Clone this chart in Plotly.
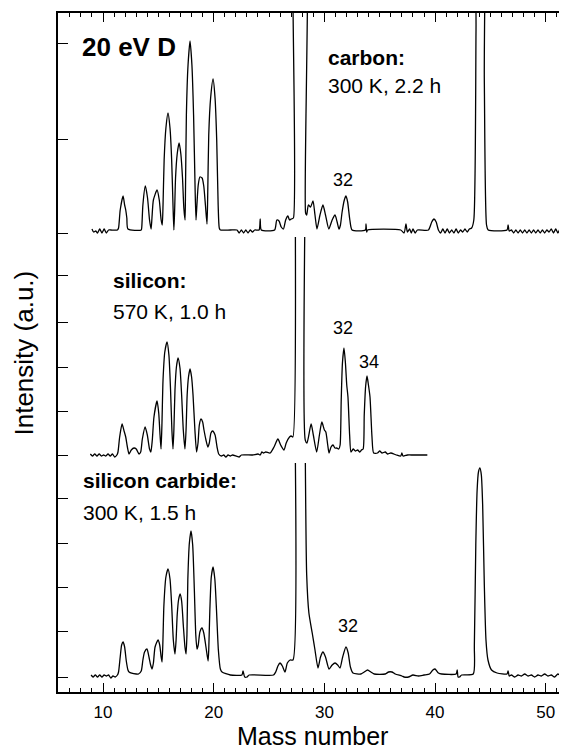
import plotly.graph_objects as go

# ---------------- data ----------------
# baselines (axis units) of the three stacked spectra
carbon_base = 462
silicon_base = 237
sic_base = 17

# carbon: (mass number, intensity above baseline, a.u.)
carbon = [
    (9.0, 1), (9.15, -2), (9.35, -1), (9.5, -3), (9.7, 1), (9.9, -3), (10.1, 1), (10.3, -3), (10.5, 0), (10.7, 0), (11.3, 0),
    (11.4, 2), (11.55, 20), (11.81, 34), (11.95, 25), (12.05, 20), (12.15, 12), (12.25, 1), (13.45, 0),
    (13.5, 3), (13.6, 25), (13.82, 44), (14.02, 32), (14.2, 10), (14.34, 1),
    (14.42, 12), (14.55, 30), (14.88, 40), (15.08, 30), (15.25, 10), (15.35, 5),
    (15.42, 25), (15.52, 70), (15.68, 102), (15.87, 117), (16.05, 102), (16.2, 70), (16.32, 25), (16.4, 0),
    (16.47, 20), (16.55, 52), (16.7, 76), (16.87, 87), (17.03, 76), (17.18, 52), (17.3, 22), (17.41, 10),
    (17.45, 40), (17.53, 115), (17.68, 165), (17.86, 189), (18.03, 165), (18.18, 115), (18.32, 40), (18.4, 10),
    (18.48, 25), (18.6, 45), (18.75, 53), (18.95, 52), (19.1, 44), (19.25, 25), (19.39, 6),
    (19.45, 30), (19.55, 95), (19.72, 132), (19.94, 151), (20.12, 132), (20.27, 90), (20.4, 25), (20.5, 2), (20.6, 0),
    (21.5, 0), (22.1, 0), (22.3, -3), (22.5, 0), (22.7, -3), (22.9, 0), (23.1, -3), (23.3, 0), (23.5, -2), (23.7, 0),
    (24.1, 0), (24.2, 11), (24.3, 0), (25.5, 0), (25.7, 10), (25.9, 9), (26.1, 3), (26.3, 1), (26.5, 10), (26.7, 14),
    (26.85, 10), (27.0, 11), (27.2, 12),
    (27.45, 420), (28.15, 420),
    (28.3, 17), (28.4, 15), (28.55, 25), (28.75, 23), (28.97, 29), (29.15, 15), (29.33, 1),
    (29.6, 15), (29.87, 25), (30.1, 15), (30.4, 1), (30.7, 10), (30.96, 15), (31.15, 8), (31.32, 1),
    (31.45, 5), (31.6, 18), (31.8, 30), (31.95, 34), (32.1, 28), (32.3, 10), (32.5, 0),
    (33.7, 0), (33.76, 6), (33.82, -2), (33.9, 0), (36.9, 0), (37.2, -3), (37.37, 6), (37.5, -2), (37.7, 1),
    (37.85, -3), (38.0, 1), (38.2, -3), (38.4, 0), (39.4, 0),
    (39.7, 8), (39.9, 11), (40.1, 8), (40.3, 0),
    (40.5, -3), (40.7, 1), (40.9, -3), (41.1, 1), (41.3, -3), (41.5, 0), (41.7, -3), (41.9, 1), (42.1, -3), (42.3, 0),
    (42.5, -2), (42.7, 1), (42.9, -2), (43.1, 1), (43.3, 2),
    (43.5, 10), (43.7, 200), (43.85, 450), (44.25, 450), (44.45, 150), (44.65, 5), (44.8, 0),
    (46.5, 0), (46.6, 5), (46.7, -1), (46.9, 0), (47.1, -3), (47.3, 0), (47.5, -3), (47.7, 0), (47.9, -3), (48.1, 0),
    (48.3, -3), (48.5, 0), (48.7, -3), (48.9, 0), (49.1, -3), (49.3, 0), (49.5, -3), (49.7, 0), (49.9, -3), (50.1, 0),
    (50.3, -2), (50.5, 1), (50.7, -3), (50.9, 1), (51.1, -3), (51.3, 1), (51.5, -2), (51.7, 1), (51.9, -1),
]

# silicon (None = peak cut off in the original figure)
silicon = [
    (8.85, 1), (9.05, -1), (9.25, 1), (9.45, -1), (9.65, 1), (9.85, -1), (10.05, 0), (10.25, -1), (10.45, 1), (10.65, -1),
    (10.85, 1), (11.05, -2), (11.25, 0),
    (11.35, 3), (11.5, 18), (11.72, 31), (11.9, 24), (12.05, 18), (12.2, 8), (12.35, 1),
    (12.55, 5), (12.8, 7), (13.0, 6), (13.25, 1),
    (13.4, 3), (13.55, 16), (13.8, 28), (14.0, 20), (14.2, 6), (14.32, 3),
    (14.45, 15), (14.6, 38), (14.88, 54), (15.03, 42), (15.15, 20), (15.24, 6),
    (15.32, 30), (15.42, 75), (15.58, 103), (15.78, 113), (15.95, 100), (16.1, 65), (16.22, 25), (16.32, 6),
    (16.4, 25), (16.5, 65), (16.63, 88), (16.78, 97), (16.95, 87), (17.1, 60), (17.25, 25), (17.4, 6),
    (17.5, 25), (17.6, 60), (17.72, 78), (17.86, 86), (18.0, 78), (18.13, 60), (18.3, 25), (18.45, 3),
    (18.58, 12), (18.7, 30), (18.85, 36), (19.0, 33), (19.12, 25), (19.3, 15), (19.47, 8),
    (19.6, 12), (19.75, 22), (19.9, 24), (20.12, 20), (20.3, 8), (20.45, 1),
    (20.7, -1), (20.9, 0), (21.1, -2), (21.3, 0), (21.5, -1), (21.7, 0), (22.3, -2), (22.5, 0), (23.5, 0), (24.0, 1),
    (24.2, 0), (24.35, 3), (24.5, 2), (24.7, 3),
    (25.1, 2), (25.45, 8), (25.8, 16), (26.05, 10), (26.35, 5), (26.55, 12), (26.85, 18), (27.0, 19), (27.15, 18),
    (27.38, 218), (27.8, None), (28.22, 218),
    (28.27, 15), (28.43, 12), (28.8, 31), (29.0, 20), (29.3, 3),
    (29.55, 20), (29.77, 33), (30.0, 25), (30.13, 23), (30.3, 10), (30.42, 2),
    (30.6, 8), (30.78, 10), (30.95, 7), (31.1, 7), (31.3, 6),
    (31.42, 10), (31.52, 55), (31.63, 92), (31.77, 107), (31.9, 92), (32.02, 70), (32.13, 58), (32.28, 20), (32.4, 3),
    (32.6, 6), (32.8, 4), (33.0, 5), (33.2, 3), (33.35, 5),
    (33.5, 6), (33.6, 40), (33.72, 68), (33.85, 79), (33.98, 70), (34.12, 58), (34.3, 18), (34.45, 2),
    (34.8, 2), (35.0, 4), (35.2, 2), (35.5, 3), (35.7, 1), (36.0, 2), (36.5, 0), (36.9, -1), (37.0, 2), (37.1, -1),
    (37.5, 0), (38.0, 0), (38.5, 0), (39.3, 0),
]

# silicon carbide
sic = [
    (8.92, 0), (9.1, -2), (9.3, 0), (9.5, -2), (9.7, 0), (9.9, -2), (10.1, 0), (10.3, -1), (10.5, 0), (10.7, -3),
    (10.9, -1), (11.1, -2), (11.3, 0),
    (11.4, 3), (11.55, 18), (11.68, 30), (11.81, 33), (11.95, 28), (12.1, 14), (12.25, 5), (12.35, 3), (13.0, 1), (13.2, 1),
    (13.45, 4), (13.6, 15), (13.75, 23), (13.97, 26), (14.15, 18), (14.3, 10), (14.43, 6),
    (14.55, 12), (14.7, 28), (14.97, 35), (15.12, 30), (15.25, 18), (15.33, 13),
    (15.4, 30), (15.5, 70), (15.68, 98), (15.87, 106), (16.05, 96), (16.2, 70), (16.35, 35), (16.5, 21),
    (16.6, 35), (16.7, 60), (16.82, 75), (16.96, 81), (17.1, 74), (17.25, 50), (17.4, 28), (17.5, 21),
    (17.58, 40), (17.66, 95), (17.8, 132), (17.95, 144), (18.1, 130), (18.25, 85), (18.38, 40), (18.49, 26),
    (18.6, 30), (18.75, 43), (18.94, 47), (19.1, 42), (19.3, 28), (19.49, 14),
    (19.55, 25), (19.65, 65), (19.78, 98), (19.94, 108), (20.1, 96), (20.25, 65), (20.42, 25), (20.6, 6), (20.75, 3),
    (21.5, 0), (22.55, 0), (22.65, 4), (22.8, -2), (23.0, -2), (23.2, 0), (25.4, 0),
    (25.6, 3), (25.8, 9), (25.99, 12), (26.2, 9), (26.44, 3), (26.65, 12), (26.9, 15), (27.16, 15),
    (27.38, 212), (27.8, None), (28.28, 212),
    (28.4, 100), (28.6, 62), (28.9, 42), (29.15, 25), (29.42, 7),
    (29.65, 18), (29.87, 23), (30.1, 18), (30.42, 6),
    (30.7, 10), (30.96, 12), (31.2, 10), (31.41, 7),
    (31.65, 18), (31.95, 28), (32.15, 22), (32.35, 8), (32.58, 2),
    (33.3, 1), (33.6, 3), (33.9, 5), (34.2, 3), (34.5, 1), (35.5, 1), (35.8, 3), (36.1, 3), (36.4, 1), (37.0, -1),
    (37.2, -2), (37.6, -2), (38.0, 0), (38.5, -1), (39.0, 0), (39.5, 1), (39.8, 5), (40.0, 6), (40.3, 2), (40.6, 1),
    (41.9, 1), (42.0, 5), (42.08, -2), (42.2, -2), (42.4, 0), (43.45, 1),
    (43.55, 30), (43.68, 130), (43.8, 185), (43.92, 203), (44.05, 207), (44.18, 200), (44.3, 170), (44.45, 90),
    (44.6, 35), (44.78, 15), (45.1, 5), (45.6, 2),
    (46.5, 1), (46.6, 4), (46.7, -1), (46.9, 0), (47.2, -2), (47.5, 0), (47.8, -1), (48.1, 1), (48.4, -1), (48.7, 0),
    (49.0, -2), (49.3, 0), (49.6, -1), (49.9, 1), (50.2, -1), (50.5, 0), (50.8, -2), (51.1, 1), (51.4, -1), (51.7, 1), (51.9, 0),
]

x_tick_labels = ["10", "20", "30", "40", "50"]
x_tick_values = [10, 20, 30, 40, 50]
y_tick_values = [15, 61, 105, 149, 194, 237, 281, 325, 370, 417, 459, 553, 649]

# ---------------- figure ----------------
FONT = "Liberation Sans, Arial, Helvetica, sans-serif"
fig = go.Figure()


def add_spectrum(points, base):
    xs = [p[0] for p in points]
    ys = [None if p[1] is None else base + p[1] for p in points]
    fig.add_trace(go.Scatter(
        x=xs, y=ys, mode="lines", connectgaps=False,
        line=dict(color="black", width=1.3, shape="spline", smoothing=0.6),
        hoverinfo="skip", showlegend=False,
    ))


add_spectrum(carbon, carbon_base)
add_spectrum(silicon, silicon_base)
add_spectrum(sic, sic_base)

ann = []


def text(x, y, s, size, xanchor="left", bold=False):
    ann.append(dict(x=x, y=y, xref="x", yref="y", text=(f"<b>{s}</b>" if bold else s),
                    showarrow=False, xanchor=xanchor, yanchor="middle",
                    font=dict(family=FONT, size=size, color="black")))


text(7.95, 645, "20 eV D", 26, bold=True)
text(30.1, 635, "carbon:", 21, bold=True)
text(30.1, 607, "300 K, 2.2 h", 21)
text(10.7, 412, "silicon:", 21, bold=True)
text(10.7, 381, "570 K, 1.0 h", 21)
text(8.05, 212, "silicon carbide:", 21, bold=True)
text(8.05, 180, "300 K, 1.5 h", 21)
text(31.7, 512, "32", 18, xanchor="center")
text(31.7, 364, "32", 18, xanchor="center")
text(34.0, 330, "34", 18, xanchor="center")
text(32.1, 66, "32", 18, xanchor="center")

# axis titles
ann.append(dict(x=-0.0668, y=0.5, xref="paper", yref="paper", text="Intensity (a.u.)",
                textangle=-90, showarrow=False, xanchor="center", yanchor="middle",
                font=dict(family=FONT, size=26, color="black")))
ann.append(dict(x=0.5, y=-0.0885, xref="paper", yref="paper", text="Mass number",
                showarrow=False, xanchor="center", yanchor="bottom",
                font=dict(family=FONT, size=25, color="black")))

# the page body has an 8 px margin, so the figure is sized/offset to compensate
fig.update_layout(
    width=559, height=745,
    margin=dict(l=50, r=0, t=5, b=61),
    paper_bgcolor="white", plot_bgcolor="white",
    annotations=ann,
    xaxis=dict(
        range=[5.93, 51.92], showgrid=False, zeroline=False,
        showline=True, linecolor="black", linewidth=1.6, mirror="allticks",
        ticks="inside", ticklen=9, tickwidth=1.3, tickcolor="black",
        tickvals=x_tick_values, ticktext=x_tick_labels, ticklabelstandoff=4,
        tickfont=dict(family=FONT, size=17, color="black"),
        minor=dict(dtick=1, tick0=0, ticks="inside", ticklen=4.5, tickwidth=1.1, tickcolor="black"),
    ),
    yaxis=dict(
        range=[0, 679], showgrid=False, zeroline=False,
        showline=True, linecolor="black", linewidth=1.6, mirror=False,
        ticks="inside", ticklen=10, tickwidth=1.3, tickcolor="black",
        tickvals=y_tick_values, showticklabels=False,
    ),
)

fig.write_html("out.html")
